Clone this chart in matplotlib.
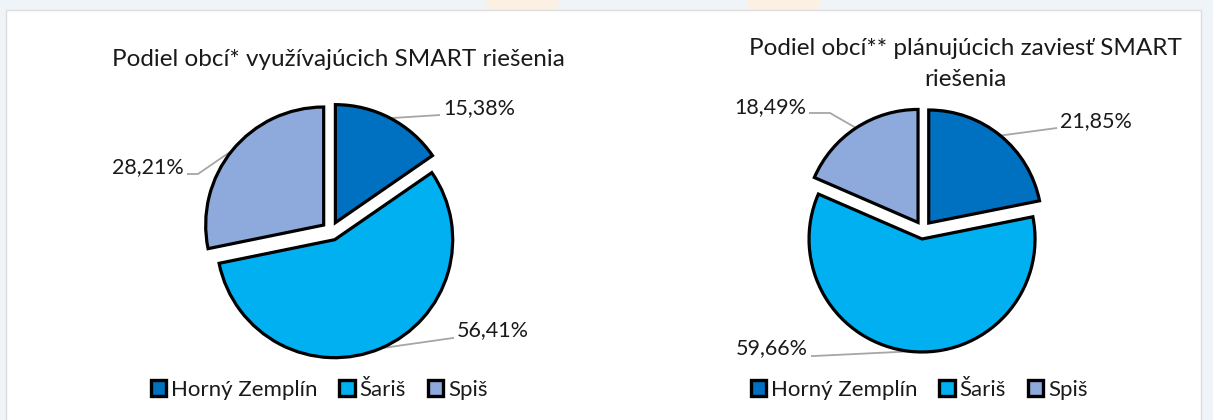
import numpy as np
import matplotlib
matplotlib.use("Agg")
import matplotlib.pyplot as plt
from matplotlib.patches import Patch, Rectangle, Ellipse
from matplotlib.legend import Legend

# ---- data ----
categories = ["Horný Zemplín", "Šariš", "Spiš"]
shares_using = [15.38, 56.41, 28.21]
shares_planning = [21.85, 59.66, 18.49]
title_using = "Podiel obcí* využívajúcich SMART riešenia"
title_planning = "Podiel obcí** plánujúcich zaviesť SMART\nriešenia"
colors = ["#0070C0", "#00B0F0", "#8EA9DB"]

W, H = 1213, 420
FONT = "Lato"
plt.rcParams["font.family"] = [FONT, "DejaVu Sans"]

fig = plt.figure(figsize=(W / 100, H / 100), dpi=100)
fig.patch.set_facecolor("#eff4f9")
ax = fig.add_axes([0, 0, 1, 1])
ax.set_axis_off()


def fy(y):
    return H - y


# page background / panel
for x0, x1 in [(484, 560), (745, 823)]:
    ax.add_patch(Ellipse(((x0 + x1) / 2, fy(4)), x1 - x0, 16, facecolor="#fcf0e2",
                         edgecolor="none", zorder=0))
ax.add_patch(Rectangle((6, fy(H + 5)), 1195, H + 5 - 10, facecolor="white",
                       edgecolor="#dcdcdc", linewidth=1.0, zorder=1))


def draw_pie(values, cx, cy, r, title, title_xy, labels_layout, legend_xy):
    wedges, _ = ax.pie(values, colors=colors, startangle=90, counterclock=False,
                       radius=r, center=(cx, fy(cy)), explode=[0.08 * r] * len(values),
                       wedgeprops=dict(edgecolor="black", linewidth=2.3, joinstyle="miter"),
                       frame=False)
    for w in wedges:
        w.set_zorder(3)
    for w, v, (tx, ty, ha, ex, ey) in zip(wedges, values, labels_layout):
        tm = np.deg2rad(0.5 * (w.theta1 + w.theta2))
        sx = w.center[0] + w.r * np.cos(tm)
        sy = w.center[1] + w.r * np.sin(tm)
        hx = tx - 3 if ha == "left" else tx + 3
        ax.plot([sx, ex, hx], [sy, fy(ey), fy(ey)], color="#a6a6a6", lw=1.3,
                solid_capstyle="butt", zorder=2)
        ax.text(tx, fy(ty), f"{v:.2f}%".replace(".", ","), ha=ha, va="center",
                fontsize=15.5, color="#1a1a1a", zorder=4)
    ax.text(title_xy[0], fy(title_xy[1]), title, ha="center", va="center",
            fontsize=17.5, color="#1a1a1a", linespacing=1.6, zorder=4)
    handles = [Patch(facecolor=c, edgecolor="black", linewidth=2.4) for c in colors]
    leg = Legend(ax, handles, categories, loc="center",
                 bbox_to_anchor=(legend_xy[0] / W, 1 - legend_xy[1] / H),
                 bbox_transform=fig.transFigure,
                 ncol=3, frameon=False, handlelength=0.7, handleheight=0.75,
                 handletextpad=0.2, columnspacing=1.0, fontsize=16,
                 borderaxespad=0, borderpad=0)
    for t in leg.get_texts():
        t.set_color("#1a1a1a")
    leg.set_zorder(5)
    ax.add_artist(leg)


draw_pie(shares_using, 331, 231, 118, title_using, (338, 59),
         [(443, 108, "left", 440, 115),
          (457, 330, "left", 453, 338),
          (184, 167, "right", 198, 174)],
         (319, 390))

draw_pie(shares_planning, 923, 230, 113, title_planning, (965, 64),
         [(1060, 121, "left", 1057, 128),
          (808, 348, "right", 814, 356),
          (806, 107, "right", 830, 113)],
         (919, 390))

ax.set_xlim(0, W)
ax.set_ylim(0, H)
fig.savefig("out.png", dpi=100, facecolor=fig.get_facecolor())
